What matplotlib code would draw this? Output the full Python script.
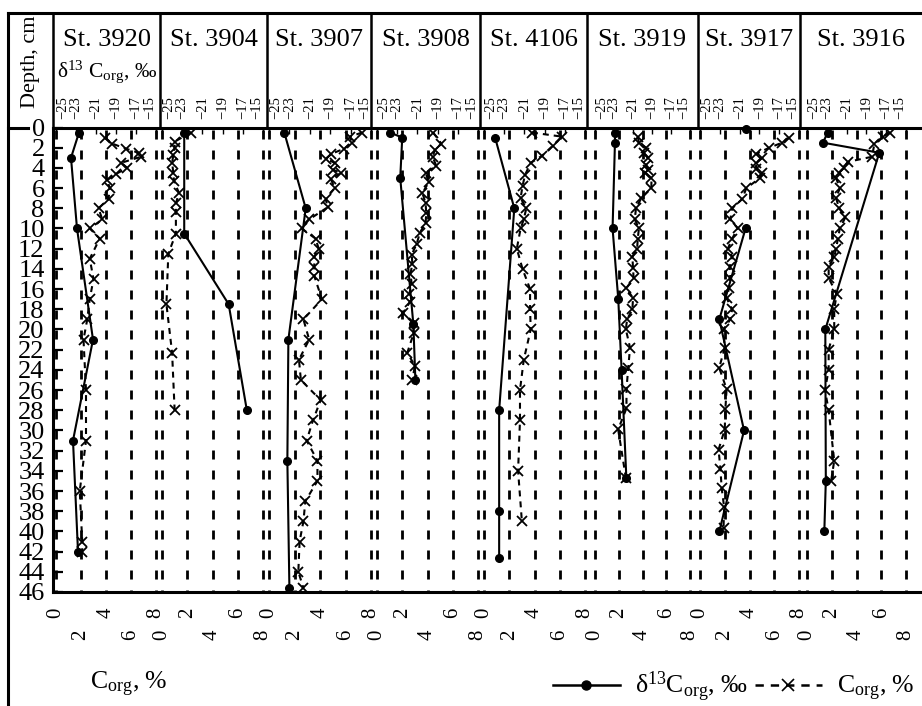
import numpy as np
import matplotlib
matplotlib.use('Agg')
import matplotlib.pyplot as plt
from matplotlib.lines import Line2D

plt.rcParams['font.family'] = ['Liberation Serif', 'DejaVu Serif']
plt.rcParams['mathtext.fontset'] = 'custom'
plt.rcParams['mathtext.rm'] = 'Liberation Serif'
plt.rcParams['mathtext.it'] = 'Liberation Serif:italic'
plt.rcParams['mathtext.bf'] = 'Liberation Serif:bold'
plt.rcParams['lines.scale_dashes'] = False

# ---------------- data ----------------
STATIONS = ['St. 3920', 'St. 3904', 'St. 3907', 'St. 3908',
            'St. 4106', 'St. 3919', 'St. 3917', 'St. 3916']

DEPTH_TICKS = list(range(0, 47, 2))
CORG_TICKS = [0, 2, 4, 6, 8]
D13C_TICKS = [-25, -23, -21, -19, -17, -15]

# St. 3920
D13C_DEPTH_3920 = [0.5, 3, 10, 21, 31, 42]
D13C_3920 = [-22.7, -23.5, -22.9, -21.3, -23.3, -22.8]
CORG_DEPTH_3920 = [1.0, 1.6, 2.1, 2.5, 2.9, 3.5, 4.0, 4.6, 5.2, 6.0, 7.1, 8.0, 9.1,
                   10.0, 11.0, 13.0, 15.0, 17.0, 19.0, 21.0, 26.0, 31.0, 36.0, 41.0, 42.0]
CORG_3920 = [3.9, 4.5, 5.6, 6.6, 6.8, 5.2, 5.7, 4.8, 4.1, 4.3, 4.2, 3.4, 3.7,
             2.7, 3.5, 2.7, 3.0, 2.7, 2.5, 2.2, 2.4, 2.4, 1.9, 2.1, 2.1]

# St. 3904
D13C_DEPTH_3904 = [0.5, 10.5, 17.5, 28]
D13C_3904 = [-22.8, -22.8, -18.4, -16.6]
CORG_DEPTH_3904 = [0.5, 1.4, 2.0, 2.7, 3.5, 4.5, 5.3, 6.5, 7.5, 8.4, 10.5, 12.5, 17.5, 22.3, 28]
CORG_3904 = [2.3, 1.0, 1.0, 0.9, 0.8, 0.9, 0.95, 1.35, 1.1, 1.1, 1.1, 0.5, 0.35, 0.8, 1.0]

# St. 3907
D13C_DEPTH_3907 = [0.5, 8, 21, 33, 45.6]
D13C_3907 = [-23.5, -21.4, -23.1, -23.2, -23.0]
CORG_DEPTH_3907 = [0.5, 0.9, 1.5, 2.1, 2.6, 3.1, 3.5, 4.2, 4.5, 5.1, 6, 7.1, 7.9, 9.1, 10,
                   11, 12, 12.8, 13.8, 14.7, 17, 19, 21, 23, 25, 27, 29, 31, 33, 35,
                   37, 39, 41, 44, 45.6]
CORG_3907 = [7.3, 6.35, 6.5, 5.9, 4.9, 4.45, 5.15, 5.05, 5.65, 4.85, 5.15, 4.45, 4.6, 3.15, 2.55,
             3.65, 3.9, 3.55, 3.55, 3.55, 4.15, 2.7, 3.15, 2.35, 2.5, 4.05, 3.45, 2.95, 3.8, 3.8,
             2.85, 2.7, 2.4, 2.3, 2.7]

# St. 3908
D13C_DEPTH_3908 = [0.5, 1, 5, 19.5, 25]
D13C_3908 = [-23.7, -22.5, -22.7, -21.4, -21.2]
CORG_DEPTH_3908 = [0.5, 1.6, 2.2, 2.9, 3.8, 4.5, 5.4, 6.5, 7.5, 8.5, 9.5, 10.4, 11.5, 12.6,
                   13.5, 14.5, 15.5, 16.5, 17.3, 18.4, 19.4, 20.4, 22.3, 23.6, 25]
CORG_3908 = [4.45, 5.1, 4.6, 4.4, 4.7, 3.85, 4.1, 3.6, 3.85, 3.9, 3.85, 3.4, 3.15, 2.75,
             2.8, 2.65, 2.75, 2.55, 2.6, 2.05, 2.9, 2.9, 2.4, 3.0, 2.8]

# St. 4106
D13C_DEPTH_4106 = [1, 8, 28, 38, 42.6]
D13C_4106 = [-23.9, -22.0, -23.5, -23.5, -23.5]
CORG_DEPTH_4106 = [0.5, 0.9, 1.8, 2.8, 3.5, 4.7, 5.8, 7, 8, 9.1, 10, 12, 14, 16, 18, 20,
                   23, 26, 29, 34, 39]
CORG_4106 = [3.8, 6.15, 5.45, 4.6, 3.7, 3.25, 3.05, 2.9, 3.35, 3.15, 2.9, 2.6, 3.05, 3.65,
             3.65, 3.7, 3.15, 2.85, 2.85, 2.7, 3.0]

# St. 3919
D13C_DEPTH_3919 = [0.5, 1.5, 10, 17, 24, 34.7]
D13C_3919 = [-22.9, -22.9, -23.15, -22.55, -22.2, -21.7]
CORG_DEPTH_3919 = [0.9, 1.5, 2, 2.5, 3, 3.7, 4.2, 4.5, 5, 6, 7, 8, 9.1, 10, 11, 12, 12.8,
                   13.9, 14.9, 15.9, 16.9, 18, 19, 20, 21.8, 23.8, 25.9, 27.8, 29.9, 34.7]
CORG_3919 = [3.6, 3.7, 4.3, 4.1, 4.45, 4.3, 4.45, 4.25, 4.75, 4.75, 3.9, 3.45, 3.35, 3.7,
             3.6, 3.55, 3.15, 3.2, 3.25, 2.65, 3.2, 3.15, 2.7, 2.6, 2.95, 2.8, 2.65, 2.65,
             1.95, 2.6]

# St. 3917
D13C_DEPTH_3917 = [0.1, 10, 19, 30, 40]
D13C_3917 = [-20.4, -20.4, -23.05, -20.55, -23.05]
CORG_DEPTH_3917 = [1, 1.5, 2, 2.6, 3, 3.5, 4.1, 4.5, 5, 6, 7.1, 8, 9.1, 10, 11, 12, 12.8,
                   13.8, 14.9, 15.9, 16.9, 18, 19, 20, 21.8, 23.8, 25.9, 27.9, 29.9, 31.9,
                   33.8, 35.7, 37.6, 39.7]
CORG_3917 = [7.2, 6.65, 5.6, 4.55, 5.05, 4.5, 4.55, 5.0, 4.85, 3.75, 3.4, 2.6, 2.45, 3.05,
             2.6, 2.25, 2.6, 2.4, 2.45, 2.35, 2.15, 2.6, 2.45, 1.9, 2.0, 1.55, 2.15, 2.05,
             2.0, 1.5, 1.65, 1.75, 1.95, 1.9]

# St. 3916
D13C_DEPTH_3916 = [0.5, 1.5, 2.5, 20, 35, 40]
D13C_3916 = [-22.9, -23.4, -17.7, -23.15, -23.1, -23.25]
CORG_DEPTH_3916 = [0.5, 0.9, 1.6, 2.9, 3.4, 4, 4.5, 5, 6, 7, 8, 8.9, 10, 11, 12, 12.8,
                   13.8, 14.9, 16.5, 18, 20, 22, 24, 26, 28, 33, 35]
CORG_3916 = [6.7, 6.15, 5.45, 5.25, 3.3, 2.95, 2.55, 2.35, 2.65, 2.35, 2.6, 3.1, 2.65,
             2.5, 2.35, 2.2, 1.75, 1.75, 2.4, 2.2, 2.2, 1.75, 1.75, 1.45, 1.75, 2.2, 1.95]

# index of the first d13C point joined by the line (earlier points are isolated)
D13C_LINE_FROM = [0, 0, 0, 0, 0, 0, 1, 0]

SERIES = [
    (D13C_DEPTH_3920, D13C_3920, CORG_DEPTH_3920, CORG_3920),
    (D13C_DEPTH_3904, D13C_3904, CORG_DEPTH_3904, CORG_3904),
    (D13C_DEPTH_3907, D13C_3907, CORG_DEPTH_3907, CORG_3907),
    (D13C_DEPTH_3908, D13C_3908, CORG_DEPTH_3908, CORG_3908),
    (D13C_DEPTH_4106, D13C_4106, CORG_DEPTH_4106, CORG_4106),
    (D13C_DEPTH_3919, D13C_3919, CORG_DEPTH_3919, CORG_3919),
    (D13C_DEPTH_3917, D13C_3917, CORG_DEPTH_3917, CORG_3917),
    (D13C_DEPTH_3916, D13C_3916, CORG_DEPTH_3916, CORG_3916),
]

# ---------------- layout (pixels) ----------------
W, H = 922, 706
PLOT_TOP, PLOT_BOT = 127.5, 592.0
PLOT_LEFT = 53.0
PANEL_START = [56, 162, 269, 377, 484, 595, 700, 807]
PANEL_END = [156, 263, 371, 478, 585, 690, 799, 906]
HEADER_BOUNDS = [53, 160, 267, 371, 480, 587, 698, 800, 922]

def rect(x0, y0, x1, y1):
    return [x0 / W, 1 - y1 / H, (x1 - x0) / W, (y1 - y0) / H]

fig = plt.figure(figsize=(W / 100, H / 100), dpi=100)

# frame axes carrying the depth axis
fr = fig.add_axes(rect(PLOT_LEFT, PLOT_TOP, W + 5, PLOT_BOT))
fr.set_xlim(0, 1)
fr.set_ylim(46, 0)
fr.set_xticks([])
fr.set_yticks(DEPTH_TICKS)
fr.set_yticklabels([str(v) for v in DEPTH_TICKS], fontsize=19)
fr.tick_params(axis='y', direction='in', length=7.5, width=1.6, pad=6)
for s in ['left', 'top', 'bottom']:
    fr.spines[s].set_linewidth(2.2)
fr.spines['right'].set_visible(False)
fr.patch.set_alpha(0)

BLACK = '#000000'
for i, (dd, dv, cd, cv) in enumerate(SERIES):
    ax = fig.add_axes(rect(PANEL_START[i], PLOT_TOP, PANEL_END[i], PLOT_BOT))
    ax.patch.set_alpha(0)
    ax.set_xlim(0, 8)
    ax.set_ylim(46, 0)
    for s in ax.spines.values():
        s.set_visible(False)
    ax.set_xticks([])
    ax.set_yticks([])
    # dashed verticals
    for c in CORG_TICKS:
        ax.plot([c, c], [0.2, 46], color=BLACK, lw=2.0, ls=(0, (6.5, 7.9)),
                solid_capstyle='butt', dash_capstyle='butt', zorder=1, clip_on=False)
    ax.plot(cv, cd, color=BLACK, lw=1.5, ls=(0, (4.3, 3.6)), marker='x',
            markersize=6.5, markeredgewidth=1.3, zorder=3, clip_on=False)
    # bottom labels, staggered
    for j, c in enumerate(CORG_TICKS):
        k = i * 5 + j
        ypx = 613 if k % 2 == 0 else 635
        ax.text(c, (PLOT_BOT - ypx) / (PLOT_BOT - PLOT_TOP), str(c),
                transform=ax.get_xaxis_transform(), rotation=90,
                ha='center', va='center', fontsize=15)
    # d13C on a twin axis
    at = ax.twiny()
    at.set_xlim(-25, -15)
    at.set_ylim(46, 0)
    for s in at.spines.values():
        s.set_visible(False)
    n0 = D13C_LINE_FROM[i]
    if n0 > 0:
        at.plot(dv[:n0], dd[:n0], ls='none', color=BLACK, marker='o',
                markersize=5.5, zorder=4, clip_on=False)
    at.plot(dv[n0:], dd[n0:], color=BLACK, lw=1.5, marker='o', markersize=5.5,
            zorder=4, clip_on=False)
    at.set_xticks(D13C_TICKS)
    at.set_xticklabels(['\u2212' + str(-v) for v in D13C_TICKS], rotation=90,
                       fontsize=10.5)
    at.tick_params(axis='x', direction='in', length=4, width=1, pad=6)
    tls = at.get_xticklabels()
    tls[0].set_ha('left')
    tls[-1].set_ha('right')

# overlay for header / frame lines and texts
ov = fig.add_axes([0, 0, 1, 1])
ov.set_xlim(0, W)
ov.set_ylim(H, 0)
ov.axis('off')
ov.patch.set_alpha(0)
ov.plot([8, W], [13, 13], color=BLACK, lw=2.2, solid_capstyle='projecting')
ov.plot([8, 8], [13, H], color=BLACK, lw=2.2)
ov.plot([8, 28], [PLOT_TOP, PLOT_TOP], color=BLACK, lw=2.2)
for b in HEADER_BOUNDS[:-1]:
    ov.plot([b, b], [13, PLOT_TOP], color=BLACK, lw=1.8)
for i, name in enumerate(STATIONS):
    cx = (HEADER_BOUNDS[i] + HEADER_BOUNDS[i + 1]) / 2
    ov.text(cx, 40, name, ha='center', va='center', fontsize=19)
ov.text(57, 72, r'$\mathrm{\delta}^{13}$ C$_{\mathrm{org}}$, $\mathit{‰}$',
        ha='left', va='center', fontsize=15.5)
ov.text(30, 62, 'Depth, cm', rotation=90, ha='center', va='center', fontsize=16)
ov.text(90, 684, r'C$_{\mathrm{org}}$, $\mathit{\%}$', ha='left', va='center',
        fontsize=18.5)

handles = [
    Line2D([], [], color=BLACK, lw=1.8, marker='o', markersize=6.5),
    Line2D([], [], color=BLACK, lw=1.8, ls=(0, (6, 5)), marker='x',
           markersize=8, markeredgewidth=1.2),
]
labels = [r'$\mathrm{\delta}^{13}$C$_{\mathrm{org}}$, $\mathit{‰}$',
          r'C$_{\mathrm{org}}$, $\mathit{\%}$']
fig.legend(handles, labels, loc='center left',
           bbox_to_anchor=(553 / W, 1 - 687 / H), ncol=2, frameon=False,
           fontsize=18.5, handlelength=2.6, handletextpad=0.6,
           columnspacing=0.25, borderpad=0, borderaxespad=0)

fig.savefig('out.png', dpi=100)
